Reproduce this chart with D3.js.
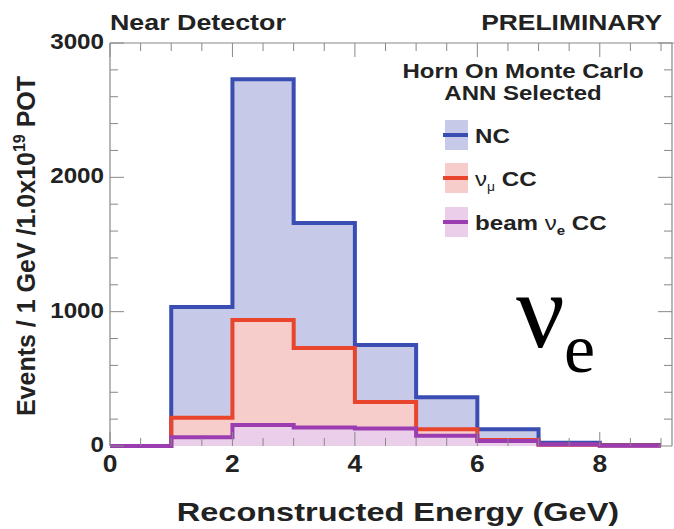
<!DOCTYPE html>
<html>
<head>
<meta charset="utf-8">
<script src="https://cdn.jsdelivr.net/npm/d3@7"></script>
<style>
  body { margin: 0; background: #fff; }
  text { font-family: "Liberation Sans", Arial, sans-serif; font-weight: bold; fill: #222; }
</style>
</head>
<body>
<div id="chart"></div>
<script>
var w = 674;
var h = 529;

// bin edges in GeV and the height of each histogram in that bin
var edges = [0, 1, 2, 3, 4, 5, 6, 7, 8, 9];
var nc = [0, 1035, 2730, 1660, 752, 362, 125, 25, 8];
var numu = [0, 211, 938, 730, 328, 125, 45, 10, 3];
var nue = [0, 65, 156, 137, 131, 77, 37, 12, 2];

var xTicks = [0, 2, 4, 6, 8];
var yTicks = [0, 1000, 2000, 3000];

var series = [
  { name: "NC", vals: nc, line: "#3a4db3", fill: "#c6c9e7" },
  { name: "numu", vals: numu, line: "#e8452c", fill: "#f7cdcc" },
  { name: "nue", vals: nue, line: "#9b3db0", fill: "#ebcfea" }
];

var x = d3.scaleLinear().domain([0, 9]).range([110, 661]);
var y = d3.scaleLinear().domain([0, 3000]).range([446, 43]);

var svg = d3.select("#chart")
  .append("svg")
  .attr("width", w)
  .attr("height", h);

function steps(vals) {
  var pts = vals.map(function(v, i) { return [edges[i], v]; });
  pts.push([edges[edges.length - 1], vals[vals.length - 1]]);
  return pts;
}

// text that is a little stretched sideways, like the original picture
function wideText(px, py, size, anchor, sx) {
  return svg.append("g")
    .attr("transform", "translate(" + px + "," + py + ") scale(" + sx + ",1)")
    .append("text")
    .attr("text-anchor", anchor)
    .style("font-size", size + "px");
}

var line = d3.line()
  .x(function(d) { return x(d[0]); })
  .y(function(d) { return y(d[1]); })
  .curve(d3.curveStepAfter);

var area = d3.area()
  .x(function(d) { return x(d[0]); })
  .y0(y(0))
  .y1(function(d) { return y(d[1]); })
  .curve(d3.curveStepAfter);

// filled areas first, outlines on top
series.forEach(function(s) {
  svg.append("path")
    .attr("d", area(steps(s.vals)))
    .attr("fill", s.fill);
});
series.forEach(function(s) {
  svg.append("path")
    .attr("d", line(steps(s.vals)))
    .attr("fill", "none")
    .attr("stroke", s.line)
    .attr("stroke-width", 4);
});

// frame lines
svg.append("line")
  .attr("x1", x(0)).attr("x2", 674)
  .attr("y1", y(3000)).attr("y2", y(3000))
  .attr("stroke", "#888").attr("stroke-width", 1.2);
svg.append("line")
  .attr("x1", x(0)).attr("x2", x(0))
  .attr("y1", y(3000)).attr("y2", y(0))
  .attr("stroke", "#888").attr("stroke-width", 1.2);
svg.append("line")
  .attr("x1", 672).attr("x2", 672)
  .attr("y1", y(3000)).attr("y2", y(0))
  .attr("stroke", "#888").attr("stroke-width", 1.2);

// tick marks
d3.range(0, 9.01, 0.5).forEach(function(v) {
  var len = v % 2 === 0 ? 14 : 8;
  svg.append("line")
    .attr("x1", x(v)).attr("x2", x(v))
    .attr("y1", y(3000)).attr("y2", y(3000) + len)
    .attr("stroke", "#888");
  svg.append("line")
    .attr("x1", x(v)).attr("x2", x(v))
    .attr("y1", y(0)).attr("y2", y(0) - len)
    .attr("stroke", "#888");
});
d3.range(0, 3001, 200).forEach(function(v) {
  var len = v % 1000 === 0 ? 14 : 8;
  svg.append("line")
    .attr("x1", x(0)).attr("x2", x(0) + len)
    .attr("y1", y(v)).attr("y2", y(v))
    .attr("stroke", "#888");
  svg.append("line")
    .attr("x1", 672).attr("x2", 672 - len)
    .attr("y1", y(v)).attr("y2", y(v))
    .attr("stroke", "#888");
});

// tick labels
xTicks.forEach(function(d) {
  wideText(x(d), 472, 24, "middle", 1.1).text(d);
});
yTicks.forEach(function(d) {
  wideText(104, y(d) + 6, 22, "end", 1.1).text(d);
});

// titles
wideText(110, 30, 22, "start", 1.22).text("Near Detector");
wideText(662, 30, 22, "end", 1.2).text("PRELIMINARY");
wideText(398, 521, 26, "middle", 1.25).text("Reconstructed Energy (GeV)");

var yt = svg.append("text")
  .attr("transform", "translate(35,246) rotate(-90)")
  .attr("text-anchor", "middle")
  .style("font-size", "25px");
yt.append("tspan").text("Events / 1 GeV /1.0x10");
yt.append("tspan").attr("dy", -10).style("font-size", "16px").text("19");
yt.append("tspan").attr("dy", 10).text(" POT");

// legend
wideText(523, 78, 20, "middle", 1.2).text("Horn On Monte Carlo");
wideText(523, 100, 20, "middle", 1.2).text("ANN Selected");

var legendY = [135, 178, 222];
series.forEach(function(s, i) {
  svg.append("rect")
    .attr("x", 445).attr("y", legendY[i] - 15)
    .attr("width", 23).attr("height", 30)
    .attr("fill", s.fill);
  svg.append("line")
    .attr("x1", 443).attr("x2", 468)
    .attr("y1", legendY[i]).attr("y2", legendY[i])
    .attr("stroke", s.line).attr("stroke-width", 4);
});

wideText(475, legendY[0] + 8, 21, "start", 1.15).text("NC");

var l2 = wideText(475, legendY[1] + 8, 21, "start", 1.15);
l2.append("tspan").style("font-weight", "normal").text("\u03bd");
l2.append("tspan").attr("dy", 5).style("font-size", "12px").style("font-weight", "normal").text("\u03bc");
l2.append("tspan").attr("dy", -5).text(" CC");

var l3 = wideText(475, legendY[2] + 8, 21, "start", 1.15);
l3.append("tspan").text("beam ");
l3.append("tspan").style("font-weight", "normal").text("\u03bd");
l3.append("tspan").attr("dy", 5).style("font-size", "13px").text("e");
l3.append("tspan").attr("dy", -5).text(" CC");

// big nu_e label
svg.append("text")
  .attr("x", 516).attr("y", 347)
  .style("font-family", "'Liberation Serif', 'DejaVu Serif', serif")
  .style("font-weight", "normal")
  .style("font-size", "108px")
  .style("fill", "#000")
  .text("\u03bd");
svg.append("text")
  .attr("x", 564).attr("y", 372)
  .style("font-family", "'Liberation Serif', 'DejaVu Serif', serif")
  .style("font-weight", "normal")
  .style("font-size", "70px")
  .style("fill", "#000")
  .text("e");
</script>
</body>
</html>
